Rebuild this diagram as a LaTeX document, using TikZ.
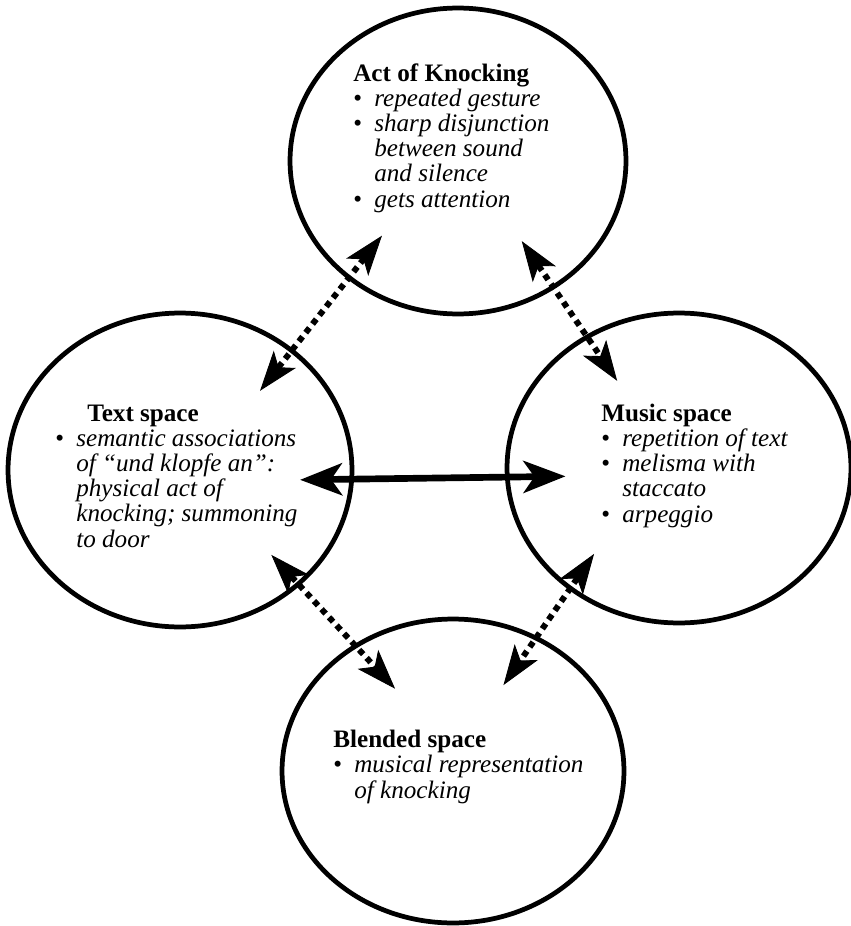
\documentclass[tikz,border=0pt]{standalone}
\usepackage{fontspec}
\setmainfont{Liberation Serif}
\usetikzlibrary{shapes.geometric}
\usetikzlibrary{arrows.meta}

\tikzstyle{blob}=[ellipse,draw,line width=2.7pt,inner sep=0pt]
% base of a multi-line blurb sits on its last line
\tikzstyle{blurb}=[align=left,inner sep=0pt,anchor=base west,font=\fontsize{14.3pt}{14.3pt}\selectfont]
\tikzstyle{link} = [line width=3.8pt,{Stealth[length=0.84cm,width=0.64cm,inset=0.22cm]}-{Stealth[length=0.84cm,width=0.64cm,inset=0.22cm]}]
\tikzstyle{dotlink} = [line width=3.4pt,dash pattern=on 3.4pt off 2.9pt,{Stealth[length=0.8cm,width=0.56cm,inset=0.2cm,line width=0.5pt]}-{Stealth[length=0.8cm,width=0.56cm,inset=0.2cm,line width=0.5pt]}]

\newcommand{\itm}[1]{\makebox[0.42cm][l]{\textbullet}\textit{#1}}
\newcommand{\cnt}[1]{\hspace*{0.42cm}\textit{#1}}

\begin{document}
\begin{tikzpicture}[x=0.02cm, y=-0.02cm]
  \useasboundingbox (0,0) rectangle (851,926);

  % the four spaces
  \node[blob, minimum width=6.72cm, minimum height=6.12cm] (act) at (458,161) {};
  \node[blob, minimum width=6.88cm, minimum height=6.28cm] (text) at (180,470) {};
  \node[blob, minimum width=6.88cm, minimum height=6.2cm] (music) at (679,468) {};
  \node[blob, minimum width=6.84cm, minimum height=6.08cm] (blend) at (453,771) {};

  % what each space holds
  \node[blurb] (acttxt) at (353,207) {\textbf{Act of Knocking}\\
    \itm{repeated gesture}\\ \itm{sharp disjunction}\\ \cnt{between sound}\\
    \cnt{and silence}\\ \itm{gets attention}};
  \node[blurb] (texttxt) at (55,547) {\hspace*{0.64cm}\textbf{Text space}\\
    \itm{semantic associations}\\ \cnt{of “und klopfe an”:}\\ \cnt{physical act of}\\
    \cnt{knocking; summoning}\\ \cnt{to door}};
  \node[blurb] (musictxt) at (601,522) {\textbf{Music space}\\
    \itm{repetition of text}\\ \itm{melisma with}\\ \cnt{staccato}\\ \itm{arpeggio}};
  \node[blurb] (blendtxt) at (333,798) {\textbf{Blended space}\\
    \itm{musical representation}\\ \cnt{of knocking}};

  % solid link between the two inputs
  \draw[link, shorten <=-1.08cm, shorten >=-1.21cm] (text.-3) -- (music.183);

  % dotted links
  \draw[dotlink, shorten <=-1.07cm, shorten >=-1.11cm] (text.47) -- (act.227);
  \draw[dotlink, shorten <=-1.16cm, shorten >=-1.11cm] (act.307) -- (music.125);
  \draw[dotlink, shorten <=-0.84cm, shorten >=-1.21cm] (text.316) -- (blend.128);
  \draw[dotlink, shorten <=-0.88cm, shorten >=-1.19cm] (music.228) -- (blend.58);
\end{tikzpicture}
\end{document}
